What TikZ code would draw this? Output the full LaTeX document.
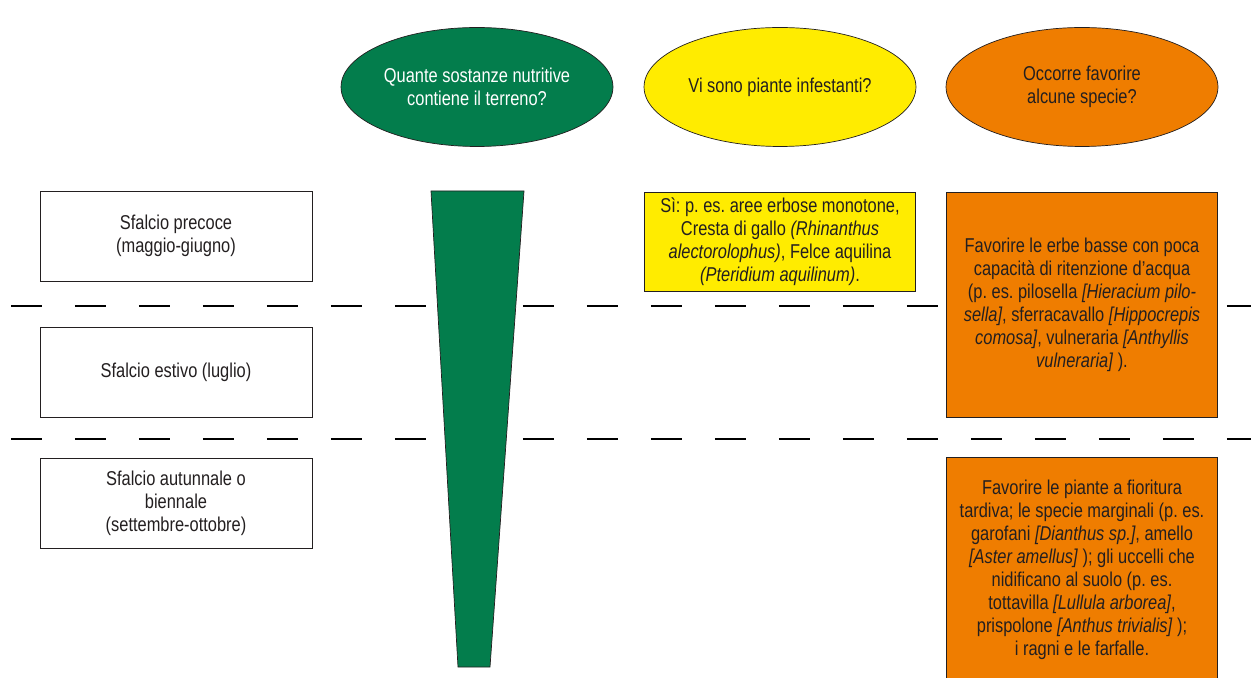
\documentclass[tikz,border=0pt]{standalone}
\usepackage{fontspec}
\setmainfont[FakeStretch=0.82]{Liberation Sans}
\usetikzlibrary{shapes.geometric, positioning}

\definecolor{prato}{RGB}{3,125,76}
\definecolor{giallo}{RGB}{255,236,0}
\definecolor{arancio}{RGB}{239,125,0}
\definecolor{testo}{RGB}{35,31,32}

\frenchspacing
\begin{document}
\begin{tikzpicture}[x=0.02cm, y=-0.02cm,
	every node/.style={align=center, text=testo, font=\fontsize{11.4}{13.1}\selectfont},
	domanda/.style={ellipse, draw=testo, thin, minimum width=5.44cm, minimum height=2.38cm, inner sep=0pt},
	fase/.style={draw=testo, thin, fill=white, minimum width=5.44cm, minimum height=1.8cm},
	scheda/.style={draw=testo, thin, minimum width=5.42cm, inner sep=2pt},
	taglio/.style={line width=1.7pt, dash pattern=on 0.62cm off 0.66cm}]

	\useasboundingbox (0,0) rectangle (1251,678);

	% domande
	\node[domanda, fill=prato, text=white] (nutrienti) at (477,87) {Quante sostanze nutritive\\contiene il terreno?};
	\node[domanda, fill=giallo] (infestanti) at (780,87) {Vi sono piante infestanti?};
	\node[domanda, fill=arancio] (specie) at (1082,87) {Occorre favorire\\alcune specie?};

	% periodi di sfalcio
	\node[fase] (precoce) at (176,236) {Sfalcio precoce\\(maggio-giugno)};
	\node[fase, below=0.92cm of precoce] (estivo) {Sfalcio estivo (luglio)};
	\node[fase, below=0.8cm of estivo] (autunnale) {Sfalcio autunnale o\\biennale\\(settembre-ottobre)};

	% separatori
	\draw[taglio] (11,306) -- (1251,306);
	\draw[taglio] (11,439) -- (1251,439);

	% cuneo nutrienti
	\draw[testo, thin, fill=prato] (431,191) -- (524,191) -- (490,667) -- (458,667) -- cycle;

	% risposte
	\node[scheda, fill=giallo, minimum height=1.98cm] (sfalcioinf) at (780,241.5) {%
		Sì: p. es. aree erbose monotone,\\
		Cresta di gallo \textit{(Rhinanthus}\\
		\textit{alectorolophus)}, Felce aquilina\\
		\textit{(Pteridium aquilinum)}.};
	\node[scheda, fill=arancio, minimum height=4.5cm] (erbebasse) at (1082,304.5) {%
		Favorire le erbe basse con poca\\
		capacità di ritenzione d’acqua\\
		(p. es. pilosella \textit{[Hieracium pilo-}\\
		\textit{sella]}, sferracavallo \textit{[Hippocrepis}\\
		\textit{comosa]}, vulneraria \textit{[Anthyllis}\\
		\textit{vulneraria]} ).};
	\node[scheda, fill=arancio, minimum height=4.5cm] (tardive) at (1082,569.5) {%
		Favorire le piante a fioritura\\
		tardiva; le specie marginali (p. es.\\
		garofani \textit{[Dianthus sp.]}, amello\\
		\textit{[Aster amellus]} ); gli uccelli che\\
		nidificano al suolo (p. es.\\
		tottavilla \textit{[Lullula arborea]},\\
		prispolone \textit{[Anthus trivialis]} );\\
		i ragni e le farfalle.};

\end{tikzpicture}
\end{document}
